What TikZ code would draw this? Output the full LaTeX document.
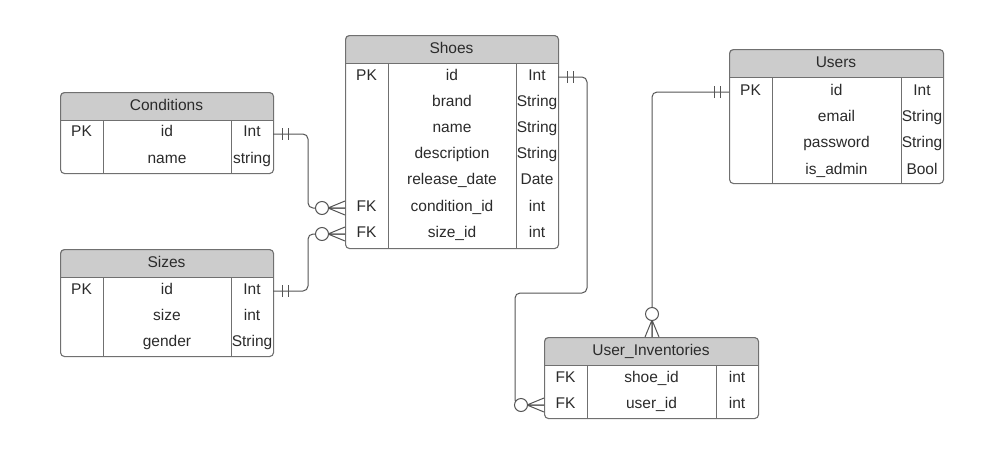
\documentclass[tikz,border=0pt]{standalone}
\usepackage{fontspec}
\setmainfont{Liberation Sans}
\definecolor{bordc}{HTML}{707070}
\definecolor{hdrc}{HTML}{CCCCCC}
\definecolor{txtc}{HTML}{2B2B2B}
\definecolor{linec}{HTML}{555555}
\newcommand\errow[8]{%
  \node[txt] (#1-k#2) at (#3,#2) {#6};
  \node[txt] (#1-n#2) at (#4,#2) {#7};
  \node[txt] (#1-t#2) at (#5,#2) {#8};
}
\begin{document}
\begin{tikzpicture}[x=1pt,y=-1pt,
  frame/.style={draw=bordc, rounded corners=4, line width=1.1pt, inner sep=0pt},
  txt/.style={text=txtc, font=\fontsize{15.5}{18}\selectfont, inner sep=0pt, anchor=base},
  conn/.style={draw=linec, line width=1pt, rounded corners=5},
  crow/.pic={\draw[linec, line width=1pt] (0,-7) -- (17,0) -- (0,7) (0,0) -- (17,0);
             \draw[linec, line width=1pt, fill=white] (23,0) circle (6.5);},
  bars/.pic={\draw[linec, line width=1pt] (9,-6) -- (9,6) (15,-6) -- (15,6);}]
\useasboundingbox[fill=white] (0,0) rectangle (1003,453);

% Shoes
\begin{scope}
  \clip[rounded corners=4] (345,35) rectangle (558,248);
  \fill[hdrc] (345,35) rectangle (558,63);
\end{scope}
\node[frame, anchor=north west, minimum width=213pt, minimum height=213pt] (shoes) at (345,35) {};
\draw[bordc, line width=1pt] (345,63) -- (558,63) (388,63) -- (388,248) (516,63) -- (516,248);
\node[txt] (shoes-title) at (451.5,53) {Shoes};
\errow{shoes}{80}{366.5}{452}{537}{PK}{id}{Int}
\errow{shoes}{106.2}{366.5}{452}{537}{}{brand}{String}
\errow{shoes}{132.4}{366.5}{452}{537}{}{name}{String}
\errow{shoes}{158.6}{366.5}{452}{537}{}{description}{String}
\errow{shoes}{184.8}{366.5}{452}{537}{}{release\_date}{Date}
\errow{shoes}{211}{366.5}{452}{537}{FK}{condition\_id}{int}
\errow{shoes}{237.2}{366.5}{452}{537}{FK}{size\_id}{int}

% Conditions
\begin{scope}
  \clip[rounded corners=4] (60,92) rectangle (273,173);
  \fill[hdrc] (60,92) rectangle (273,120);
\end{scope}
\node[frame, anchor=north west, minimum width=213pt, minimum height=81pt] (cond) at (60,92) {};
\draw[bordc, line width=1pt] (60,120) -- (273,120) (103,120) -- (103,173) (231,120) -- (231,173);
\node[txt] (cond-title) at (166.5,110) {Conditions};
\errow{cond}{136.7}{81.5}{167}{252}{PK}{id}{Int}
\errow{cond}{163}{81.5}{167}{252}{}{name}{string}

% Sizes
\begin{scope}
  \clip[rounded corners=4] (60,249) rectangle (273,356);
  \fill[hdrc] (60,249) rectangle (273,277);
\end{scope}
\node[frame, anchor=north west, minimum width=213pt, minimum height=107pt] (sizes) at (60,249) {};
\draw[bordc, line width=1pt] (60,277) -- (273,277) (103,277) -- (103,356) (231,277) -- (231,356);
\node[txt] (sizes-title) at (166.5,267) {Sizes};
\errow{sizes}{294}{81.5}{167}{252}{PK}{id}{Int}
\errow{sizes}{320.3}{81.5}{167}{252}{}{size}{int}
\errow{sizes}{346.6}{81.5}{167}{252}{}{gender}{String}

% User_Inventories
\begin{scope}
  \clip[rounded corners=4] (544,337) rectangle (758,418);
  \fill[hdrc] (544,337) rectangle (758,365);
\end{scope}
\node[frame, anchor=north west, minimum width=214pt, minimum height=81pt] (inv) at (544,337) {};
\draw[bordc, line width=1pt] (544,365) -- (758,365) (587,365) -- (587,418) (716,365) -- (716,418);
\node[txt] (inv-title) at (651,355) {User\_Inventories};
\errow{inv}{382}{565.5}{651.5}{737}{FK}{shoe\_id}{int}
\errow{inv}{408.3}{565.5}{651.5}{737}{FK}{user\_id}{int}

% Users
\begin{scope}
  \clip[rounded corners=4] (729,49) rectangle (943,183);
  \fill[hdrc] (729,49) rectangle (943,77);
\end{scope}
\node[frame, anchor=north west, minimum width=214pt, minimum height=134pt] (users) at (729,49) {};
\draw[bordc, line width=1pt] (729,77) -- (943,77) (772,77) -- (772,183) (901,77) -- (901,183);
\node[txt] (users-title) at (836,67) {Users};
\errow{users}{95}{750.5}{836.5}{922}{PK}{id}{Int}
\errow{users}{121.4}{750.5}{836.5}{922}{}{email}{String}
\errow{users}{147.8}{750.5}{836.5}{922}{}{password}{String}
\errow{users}{174.2}{750.5}{836.5}{922}{}{is\_admin}{Bool}

% connection points
\coordinate (condR) at (273,134);
\coordinate (shoesCL) at (345,208);
\coordinate (sizesR) at (273,291);
\coordinate (shoesSL) at (345,234);
\coordinate (shoesR) at (558,77);
\coordinate (invL) at (544,405);
\coordinate (usersL) at (729,92);
\coordinate (invT) at (652,337);

% connectors
\draw[conn] (condR) -- (308,134) -- (308,208) -- (shoesCL);
\draw[conn] (sizesR) -- (308,291) -- (308,234) -- (shoesSL);
\draw[conn] (shoesR) -- (587,77) -- (587,293) -- (515,293) -- (515,405) -- (invL);
\draw[conn] (usersL) -- (652,92) -- (invT);

% ends
\pic at (condR) {bars};
\pic at (sizesR) {bars};
\pic at (shoesR) {bars};
\pic[rotate=180] at (usersL) {bars};
\pic[rotate=180] at (shoesCL) {crow};
\pic[rotate=180] at (shoesSL) {crow};
\pic[rotate=180] at (invL) {crow};
\pic[rotate=90] at (invT) {crow};
\end{tikzpicture}
\end{document}
